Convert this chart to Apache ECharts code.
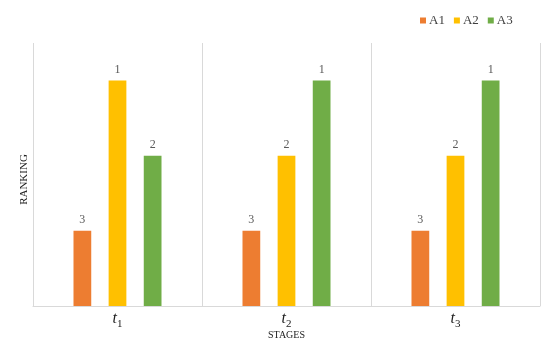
<!DOCTYPE html>
<html>
<head>
<meta charset="utf-8">
<script src="https://cdn.jsdelivr.net/npm/echarts@6/dist/echarts.min.js"></script>
<style>html,body{margin:0;padding:0;background:#fff}#c{width:550px;height:344px}</style>
</head>
<body>
<div id="c"></div>
<script>
var categories = ['t1', 't2', 't3'];
var subscripts = ['1', '2', '3'];
var seriesNames = ['A1', 'A2', 'A3'];
// bar heights (higher = better rank)
var heightA1 = [1, 1, 1];
var heightA2 = [3, 2, 2];
var heightA3 = [2, 3, 3];
// rank labels shown above bars
var rankA1 = [3, 3, 3];
var rankA2 = [1, 2, 2];
var rankA3 = [2, 1, 1];
var colors = ['#ED7D31', '#FFC000', '#70AD47'];

var heights = [heightA1, heightA2, heightA3];
var ranks = [rankA1, rankA2, rankA3];
var FONT = '"Liberation Serif", "Times New Roman", serif';

var chart = echarts.init(document.getElementById('c'));
var series = seriesNames.map(function (name, i) {
  return {
    name: name,
    type: 'bar',
    barWidth: '10.5%',
    barGap: '98%',
    itemStyle: { color: colors[i] },
    data: heights[i],
    label: {
      show: true,
      position: 'top',
      distance: 5,
      color: '#595959',
      fontFamily: FONT,
      fontSize: 12,
      formatter: function (p) { return String(ranks[i][p.dataIndex]); }
    }
  };
});

chart.setOption({
  animation: false,
  backgroundColor: '#fff',
  color: colors,
  legend: {
    data: seriesNames,
    top: 9,
    left: 415,
    itemWidth: 6,
    itemHeight: 6,
    itemGap: 9,
    icon: 'rect',
    textStyle: { fontFamily: FONT, fontSize: 13, color: '#404040', padding: [0, 0, 0, -2] }
  },
  grid: { left: 33, right: 10, top: 43, bottom: 38, containLabel: false, outerBoundsMode: 'none' },
  xAxis: {
    type: 'category',
    data: categories,
    boundaryGap: true,
    axisLine: { show: true, lineStyle: { color: '#D9D9D9', width: 1 } },
    axisTick: { show: false },
    splitLine: { show: true, lineStyle: { color: '#D9D9D9', width: 1 } },
    axisLabel: {
      margin: 5,
      formatter: function (v, idx) { return '{t|t}{s|' + subscripts[idx] + '}'; },
      rich: {
        t: { fontFamily: FONT, fontStyle: 'italic', fontSize: 16, color: '#222', lineHeight: 16, verticalAlign: 'bottom' },
        s: { fontFamily: FONT, fontSize: 11, color: '#222', lineHeight: 11, verticalAlign: 'bottom', padding: [0, 0, -3, 0] }
      }
    },
    name: 'STAGES',
    nameLocation: 'middle',
    nameGap: 24,
    nameMoveOverlap: false,
    nameTextStyle: { fontFamily: FONT, fontSize: 10, color: '#222' }
  },
  yAxis: {
    type: 'value',
    min: 0,
    max: 3.5,
    axisLine: { show: false },
    axisTick: { show: false },
    axisLabel: { show: false },
    splitLine: { show: false },
    name: 'RANKING',
    nameLocation: 'middle',
    nameGap: 3,
    nameMoveOverlap: false,
    nameRotate: 90,
    nameTextStyle: { fontFamily: FONT, fontSize: 11, color: '#222', padding: [0, 10, 0, 0] }
  },
  series: series
});
</script>
</body>
</html>
